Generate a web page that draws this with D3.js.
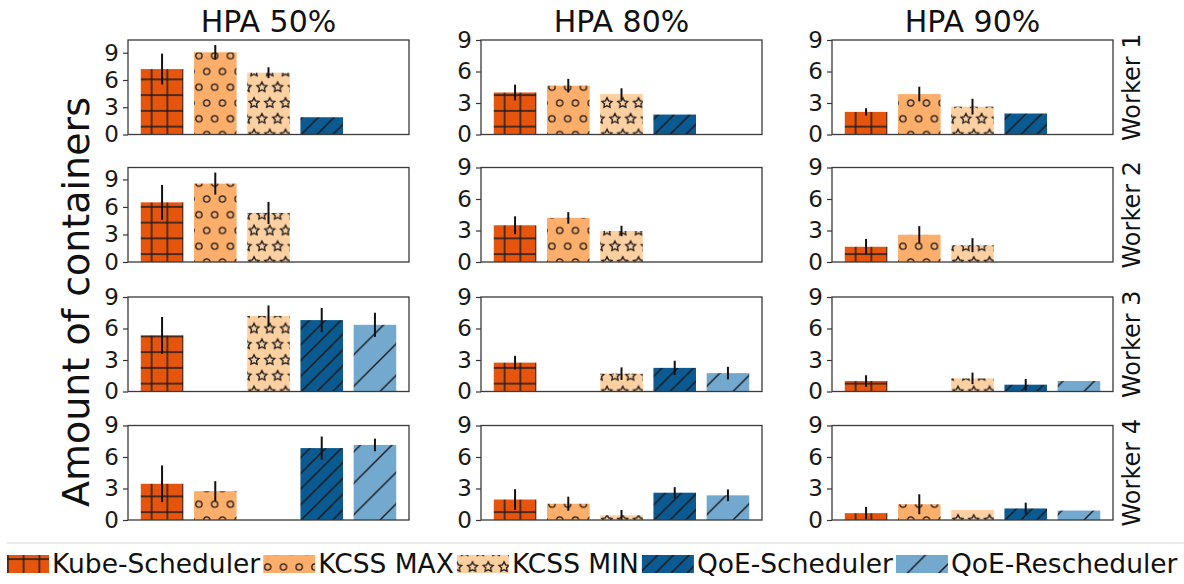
<!DOCTYPE html>
<html>
<head>
<meta charset="utf-8">
<script src="https://cdn.jsdelivr.net/npm/d3@7"></script>
<style>
  html, body { margin: 0; padding: 0; background: #fff; }
  svg { display: block; font-family: "DejaVu Sans", sans-serif; }
</style>
</head>
<body>
<svg id="chart" width="1184" height="584"></svg>
<script>
// ---- data (rows = workers, columns = HPA thresholds) ----
const schedulers = ['Kube-Scheduler', 'KCSS MAX', 'KCSS MIN', 'QoE-Scheduler', 'QoE-Rescheduler'];
const hpaLabels = ['HPA 50%', 'HPA 80%', 'HPA 90%'];
const workerLabels = ['Worker 1', 'Worker 2', 'Worker 3', 'Worker 4'];
const yTicks = [0, 3, 6, 9];

const kubeMean = [[7.2, 4.0, 2.15], [6.5, 3.5, 1.45], [5.35, 2.75, 1.0], [3.45, 1.95, 0.65]];
const kubeErr  = [[1.7, 0.75, 0.35], [1.9, 0.85, 0.75], [1.75, 0.65, 0.55], [1.75, 0.98, 0.6]];
const maxMean  = [[9.05, 4.65, 3.85], [8.55, 4.2, 2.6], [0, 0, 0], [2.75, 1.55, 1.5]];
const maxErr   = [[0.8, 0.65, 0.7], [1.2, 0.55, 0.82], [0, 0, 0], [0.95, 0.67, 0.95]];
const minMean  = [[6.8, 3.85, 2.65], [5.35, 2.95, 1.6], [7.2, 1.7, 1.25], [0, 0.45, 0.95]];
const minErr   = [[0.6, 0.55, 0.75], [1.2, 0.5, 0.67], [1.0, 0.6, 0.55], [0, 0.5, 0]];
const qoeMean  = [[1.9, 1.9, 2.0], [0, 0, 0], [6.8, 2.25, 0.65], [6.85, 2.6, 1.1]];
const qoeErr   = [[0, 0, 0], [0, 0, 0], [1.15, 0.68, 0.55], [1.1, 0.53, 0.55]];
const reschMean = [[0, 0, 0], [0, 0, 0], [6.35, 1.75, 1.0], [7.15, 2.35, 0.9]];
const reschErr  = [[0, 0, 0], [0, 0, 0], [1.15, 0.6, 0], [0.6, 0.56, 0]];

// y-limits per panel (first column top rows autoscaled above 9)
const yMax = [[10.4, 9, 9], [10.3, 9, 9], [9, 9, 9], [9, 9, 9]];

const means = [kubeMean, maxMean, minMean, qoeMean, reschMean];
const errs = [kubeErr, maxErr, minErr, qoeErr, reschErr];

// ---- look ----
const colors = ['#e6550d', '#fdae6b', '#fdd0a2', '#0b5a91', '#74a9cf'];
const hatches = ['grid', 'circles', 'stars', 'dense', 'sparse'];

const colX = [128, 481, 832];
const rowY = [40, 167.5, 297, 425.5];
const panelW = 281;
const panelH = 94.5;

const svg = d3.select('#chart');
const defs = svg.append('defs');

/*
 * hatch patterns, tiled in page space like matplotlib does
 */
const S = 15.75;
const hatchInk = '#1a1a1a';

function starPath(cx, cy, rOut) {
  const pts = [];
  for (let k = 0; k < 10; k++) {
    const r = k % 2 === 0 ? rOut : rOut * 0.5;
    const a = -Math.PI / 2 + k * Math.PI / 5;
    pts.push([cx + r * Math.cos(a), cy + r * Math.sin(a)]);
  }
  return 'M' + pts.map(p => p.join(',')).join('L') + 'Z';
}

hatches.forEach((kind, i) => {
  const tileW = kind === 'sparse' ? 2 * S : S;
  const tileH = (kind === 'circles' || kind === 'stars' || kind === 'sparse') ? 2 * S : S;
  const p = defs.append('pattern')
    .attr('id', 'hatch-' + i)
    .attr('patternUnits', 'userSpaceOnUse')
    .attr('width', tileW)
    .attr('height', tileH);
  p.append('rect').attr('width', tileW).attr('height', tileH).attr('fill', colors[i]);

  const ink = { fill: 'none', stroke: hatchInk, 'stroke-width': 1.4 };
  let d = '';
  if (kind === 'grid') {
    d = `M0,${S / 2}H${S}M${S / 2},0V${S}`;
  } else if (kind === 'dense' || kind === 'sparse') {
    const t = tileW;
    d = `M${-t / 4},${t / 4}l${t / 2},${-t / 2}M0,${t}l${t},${-t}M${3 * t / 4},${5 * t / 4}l${t / 2},${-t / 2}`;
  }
  if (d) {
    const path = p.append('path').attr('d', d);
    Object.entries(ink).forEach(([k, v]) => path.attr(k, v));
  } else {
    const spots = [[0, 0], [S, 0], [0, 2 * S], [S, 2 * S], [S / 2, S]];
    spots.forEach(([cx, cy]) => {
      const m = kind === 'circles'
        ? p.append('circle').attr('cx', cx).attr('cy', cy).attr('r', 0.2 * S)
        : p.append('path').attr('d', starPath(cx, cy, S / 3));
      Object.entries(ink).forEach(([k, v]) => m.attr(k, v));
      m.attr('stroke-width', 1.3);
    });
  }
});

/*
 * panels
 */
const x = d3.scaleLinear().domain([-0.64, 4.64]).range([0, panelW]);

workerLabels.forEach((worker, r) => {
  hpaLabels.forEach((hpa, c) => {
    const g = svg.append('g').attr('transform', `translate(${colX[c]},${rowY[r]})`);
    const y = d3.scaleLinear().domain([0, yMax[r][c]]).range([panelH, 0]);

    const rows = schedulers.map((name, i) => ({
      i, name, v: means[i][r][c], e: errs[i][r][c]
    })).filter(d => d.v > 0);

    g.selectAll('rect.bar')
      .data(rows)
      .enter()
      .append('rect')
      .attr('class', 'bar')
      .attr('x', d => x(d.i - 0.4))
      .attr('width', d => x(d.i + 0.4) - x(d.i - 0.4))
      .attr('y', d => y(d.v))
      .attr('height', d => y(0) - y(d.v))
      .attr('fill', d => `url(#hatch-${d.i})`);

    g.selectAll('line.err')
      .data(rows.filter(d => d.e > 0))
      .enter()
      .append('line')
      .attr('class', 'err')
      .attr('x1', d => x(d.i))
      .attr('x2', d => x(d.i))
      .attr('y1', d => y(Math.max(0, d.v - d.e)))
      .attr('y2', d => y(d.v + d.e))
      .attr('stroke', '#111')
      .attr('stroke-width', 2);

    const yAxis = g.append('g')
      .call(d3.axisLeft(y).tickValues(yTicks).tickSize(5).tickPadding(4));
    yAxis.select('.domain').remove();
    yAxis.selectAll('line').attr('stroke', '#333').attr('stroke-width', 1.2);
    yAxis.selectAll('text')
      .attr('fill', '#1a1a1a')
      .style('font-size', '23px')
      .style('font-family', '"DejaVu Sans", sans-serif');

    g.append('rect')
      .attr('width', panelW)
      .attr('height', panelH)
      .attr('fill', 'none')
      .attr('stroke', '#3a3a3a')
      .attr('stroke-width', 1.3);

    if (r === 0) {
      svg.append('text')
        .attr('x', colX[c] + panelW / 2)
        .attr('y', 32)
        .attr('text-anchor', 'middle')
        .attr('font-size', 30)
        .attr('fill', '#111')
        .text(hpa);
    }
    if (c === 2) {
      const cy = rowY[r] + panelH / 2;
      svg.append('text')
        .attr('transform', `translate(1132,${cy}) rotate(-90)`)
        .attr('text-anchor', 'middle')
        .attr('dominant-baseline', 'central')
        .attr('font-size', 24)
        .attr('fill', '#111')
        .text(worker);
    }
  });
});

// shared y label
svg.append('text')
  .attr('transform', 'translate(76,302) rotate(-90)')
  .attr('text-anchor', 'middle')
  .attr('dominant-baseline', 'central')
  .attr('font-size', 38)
  .attr('fill', '#111')
  .text('Amount of containers');

/*
 * legend along the bottom
 */
svg.append('line')
  .attr('x1', 7).attr('x2', 1184)
  .attr('y1', 543).attr('y2', 543)
  .attr('stroke', '#d6d6d6').attr('stroke-width', 1.2);

const legend = svg.append('g');
let cursor = 7;
schedulers.forEach((name, i) => {
  const w = i === 0 ? 42 : 52;
  legend.append('rect')
    .attr('x', cursor).attr('y', 555)
    .attr('width', w).attr('height', 18)
    .attr('fill', `url(#hatch-${i})`);
  cursor += w + 3;
  const t = legend.append('text')
    .attr('x', cursor).attr('y', 573)
    .attr('font-size', 26.5)
    .attr('fill', '#111')
    .text(name);
  cursor += t.node().getComputedTextLength() + 3;
});
</script>
</body>
</html>
